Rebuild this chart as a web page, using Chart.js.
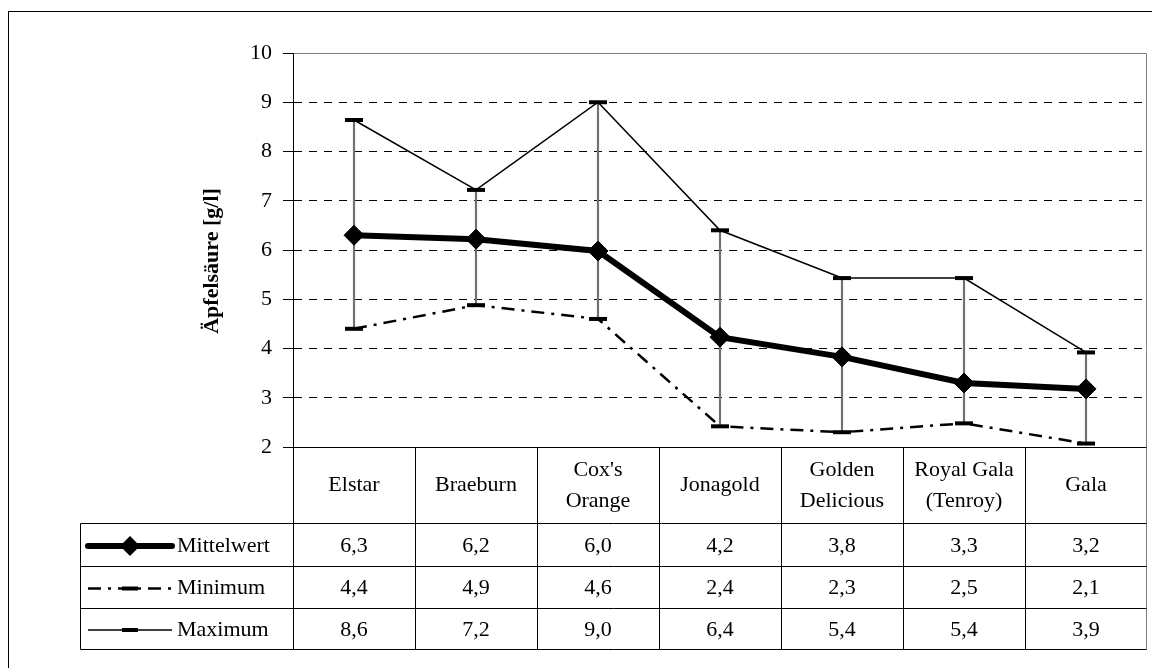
<!DOCTYPE html>
<html>
<head>
<meta charset="utf-8">
<script src="https://cdn.jsdelivr.net/npm/chart.js@4/dist/chart.umd.min.js"></script>
<style>
html, body { margin: 0; padding: 0; background: #fff; }
</style>
</head>
<body>
<canvas id="chart" width="1152" height="668"></canvas>
<script>
// data
const categories = [['Elstar'], ['Braeburn'], ["Cox's", 'Orange'], ['Jonagold'], ['Golden', 'Delicious'], ['Royal Gala', '(Tenroy)'], ['Gala']];
const mittelwert = [6.30, 6.22, 5.98, 4.23, 3.83, 3.30, 3.18];
const minimum = [4.40, 4.88, 4.60, 2.42, 2.30, 2.48, 2.07];
const maximum = [8.64, 7.22, 9.00, 6.40, 5.43, 5.43, 3.92];
const seriesNames = ['Mittelwert', 'Minimum', 'Maximum'];
const yMin = 2, yMax = 10, yStep = 1;
const yTitle = 'Äpfelsäure [g/l]';

const FONT = '"Liberation Serif", "Times New Roman", serif';
const fmt = v => v.toFixed(1).replace('.', ',');

// keys for the table rows
function drawKey(ctx, i, x0, x1, y) {
  ctx.save();
  ctx.strokeStyle = '#000';
  ctx.fillStyle = '#000';
  ctx.beginPath();
  if (i == 0) {
    ctx.lineWidth = 6;
    ctx.lineCap = 'round';
  } else if (i == 1) {
    ctx.lineWidth = 2.5;
    ctx.setLineDash([13, 7, 3, 7]);
  } else {
    ctx.lineWidth = 1.5;
  }
  ctx.moveTo(x0, y);
  ctx.lineTo(x1, y);
  ctx.stroke();
  ctx.setLineDash([]);
  const cx = (x0 + x1) / 2;
  if (i == 0) {
    ctx.beginPath();
    ctx.moveTo(cx - 10, y); ctx.lineTo(cx, y - 10); ctx.lineTo(cx + 10, y); ctx.lineTo(cx, y + 10);
    ctx.closePath();
    ctx.fill();
  } else {
    ctx.fillRect(cx - 8, y - 2, 16, 4);
  }
  ctx.restore();
}

const tablePlugin = {
  id: 'dataTable',
  afterDraw(chart) {
    const ctx = chart.ctx;
    const a = chart.chartArea;
    const xs = chart.scales.x;
    const L = Math.round(a.left) + 0.5, R = Math.round(a.right) - 0.5;
    const T = Math.round(a.top) + 0.5, B = Math.round(a.bottom) + 0.5;
    const colW = (a.right - a.left) / categories.length;
    const rowY = [B, B + 76, B + 119, B + 161, B + 202];
    const keyLeft = 80.5;

    ctx.save();
    // outer frame, runs off the picture right and bottom
    ctx.strokeStyle = '#000';
    ctx.lineWidth = 1;
    ctx.strokeRect(8.5, 11.5, 1300, 800);

    // plot frame top/right in grey
    ctx.strokeStyle = '#808080';
    ctx.beginPath();
    ctx.moveTo(L, T); ctx.lineTo(R, T); ctx.lineTo(R, rowY[4]);
    ctx.stroke();

    // table grid
    ctx.strokeStyle = '#000';
    ctx.beginPath();
    ctx.moveTo(L, B); ctx.lineTo(R, B);
    for (let r = 1; r < rowY.length; r++) {
      ctx.moveTo(keyLeft, rowY[r]); ctx.lineTo(R, rowY[r]);
    }
    ctx.moveTo(L, T); ctx.lineTo(L, rowY[4]);
    ctx.moveTo(keyLeft, rowY[1]); ctx.lineTo(keyLeft, rowY[4]);
    for (let c = 1; c < categories.length; c++) {
      const x = Math.round(a.left + c * colW) + 0.5;
      ctx.moveTo(x, B); ctx.lineTo(x, rowY[4]);
    }
    ctx.stroke();

    // y axis title
    ctx.fillStyle = '#000';
    ctx.save();
    ctx.translate(212, (a.top + a.bottom) / 2 + 11);
    ctx.rotate(-Math.PI / 2);
    ctx.font = 'bold 22px ' + FONT;
    ctx.textAlign = 'center';
    ctx.textBaseline = 'middle';
    ctx.fillText(yTitle, 0, 0);
    ctx.restore();

    // category headers
    ctx.font = '22px ' + FONT;
    ctx.textAlign = 'center';
    ctx.textBaseline = 'middle';
    const headMid = (rowY[0] + rowY[1]) / 2;
    categories.forEach((lines, i) => {
      const x = xs.getPixelForValue(i);
      const lh = 31;
      lines.forEach((t, k) => {
        ctx.fillText(t, x, headMid + (k - (lines.length - 1) / 2) * lh);
      });
    });

    // values + keys
    const series = [mittelwert, minimum, maximum];
    series.forEach((vals, r) => {
      const y = (rowY[r + 1] + rowY[r + 2]) / 2 + 1;
      vals.forEach((v, i) => {
        ctx.fillText(fmt(v), xs.getPixelForValue(i), y);
      });
      drawKey(ctx, r, 88, 172, y);
      ctx.textAlign = 'left';
      ctx.fillText(seriesNames[r], 177, y);
      ctx.textAlign = 'center';
    });
    ctx.restore();
  }
};

const yTickValues = [];
for (let v = yMin; v <= yMax; v += yStep) yTickValues.push(v);

new Chart(document.getElementById('chart'), {
  type: 'bar',
  data: {
    labels: categories.map(c => c.join(' ')),
    datasets: [
      { type: 'line', label: seriesNames[0], data: mittelwert, borderColor: '#000', borderWidth: 6,
        pointStyle: 'rectRot', pointRadius: 10, pointBackgroundColor: '#000', pointBorderColor: '#000',
        pointBorderWidth: 1, tension: 0, order: 0 },
      { type: 'line', label: seriesNames[1], data: minimum, borderColor: '#000', borderWidth: 2.5,
        borderDash: [13, 7, 3, 7], pointStyle: 'line', pointRadius: 9, pointBorderColor: '#000',
        pointBorderWidth: 4, tension: 0, order: 1 },
      { type: 'line', label: seriesNames[2], data: maximum, borderColor: '#000', borderWidth: 1.5,
        pointStyle: 'line', pointRadius: 9, pointBorderColor: '#000', pointBorderWidth: 4, tension: 0, order: 2 },
      // min-max range lines
      { type: 'bar', label: 'Spanne', data: minimum.map((v, i) => [v, maximum[i]]),
        backgroundColor: '#707070', barThickness: 1.5, order: 10 }
    ]
  },
  options: {
    responsive: false,
    animation: false,
    events: [],
    layout: { autoPadding: false, padding: { left: 200, top: 53, right: 5, bottom: 221 } },
    plugins: { legend: { display: false }, tooltip: { enabled: false } },
    scales: {
      x: { type: 'category', offset: true, display: false },
      y: {
        min: yMin, max: yMax,
        afterFit: s => { s.width = 93; },
        afterBuildTicks: s => { s.ticks = yTickValues.map(v => ({ value: v })); },
        ticks: { color: '#000', padding: 11, font: { family: FONT, size: 22 }, callback: v => String(v) },
        grid: {
          color: c => (c.tick && (c.tick.value === yMin || c.tick.value === yMax)) ? 'rgba(0,0,0,0)' : '#000',
          lineWidth: 1, tickColor: '#000', tickLength: 10, tickBorderDash: []
        },
        border: { display: true, color: '#000', width: 1, dash: [8, 7] },
        title: { display: false }
      }
    }
  },
  plugins: [tablePlugin]
});
</script>
</body>
</html>
